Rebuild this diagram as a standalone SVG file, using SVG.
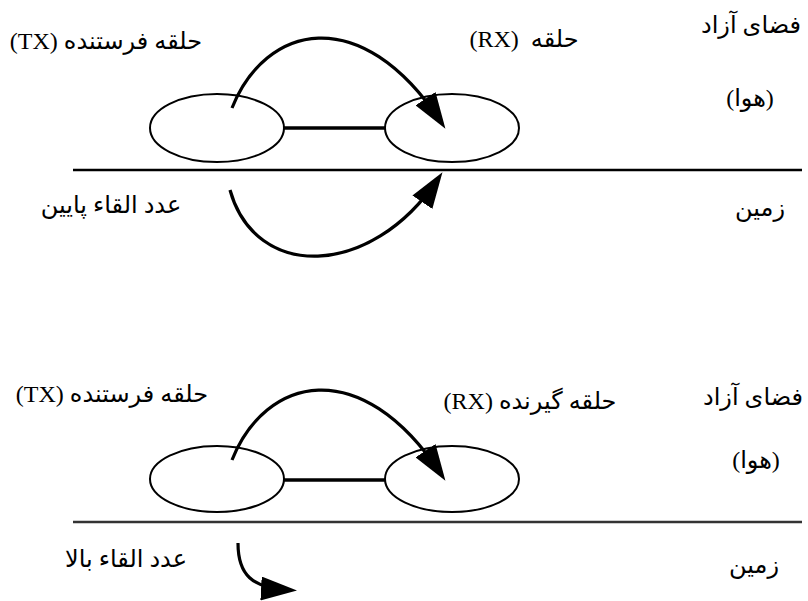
<svg xmlns="http://www.w3.org/2000/svg" width="808" height="601" viewBox="0 0 808 601">
<defs>
<marker id="ah" viewBox="0 0 36 24" markerUnits="userSpaceOnUse" markerWidth="36" markerHeight="24" refX="28" refY="12" orient="auto">
<path d="M0,0 L36,12 L0,24 z" fill="#000"/>
</marker>
</defs>
<style>
.loop{fill:#fff;stroke:#000;stroke-width:2}
.bar{stroke:#000;stroke-width:3.5}
.ground{stroke:#000;stroke-width:2.5}
.ground2{stroke:#333;stroke-width:2.5}
.arc{fill:none;stroke:#000;stroke-width:3.2;marker-end:url(#ah)}
.t{font-family:"Liberation Serif","DejaVu Sans",serif;font-size:24px;fill:#000;direction:rtl;unicode-bidi:embed;text-anchor:middle}
</style>
<rect width="808" height="601" fill="#fff"/>

<g id="top-section">
<line id="ground-top" class="ground" x1="73" y1="170" x2="802" y2="170"/>
<g id="tx-top"><ellipse class="loop" cx="217" cy="128" rx="67" ry="34"/></g>
<g id="rx-top"><ellipse class="loop" cx="452" cy="128" rx="67" ry="34"/></g>
<g id="labels-top">
<text class="t" x="106" y="49">حلقه فرستنده (TX)</text>
<text class="t" x="524" y="47">حلقه&#160; (RX)</text>
<text class="t" x="751" y="33">فضای آزاد</text>
<text class="t" x="750" y="106">(هوا)</text>
<text class="t" x="760" y="216">زمین</text>
<text class="t" x="111" y="213">عدد القاء پایین</text>
</g>
</g>

<g id="bottom-section">
<line id="ground-bottom" class="ground2" x1="73" y1="522" x2="802" y2="522"/>
<g id="tx-bottom"><ellipse class="loop" cx="217" cy="479" rx="67" ry="33"/></g>
<g id="rx-bottom"><ellipse class="loop" cx="452" cy="479" rx="67" ry="33"/></g>
<g id="labels-bottom">
<text class="t" x="112" y="402">حلقه فرستنده (TX)</text>
<text class="t" x="530" y="409">حلقه گیرنده (RX)</text>
<text class="t" x="753" y="405">فضای آزاد</text>
<text class="t" x="756" y="468">(هوا)</text>
<text class="t" x="754" y="573">زمین</text>
<text class="t" x="126" y="567">عدد القاء بالا</text>
</g>
</g>

<g id="connectors">
<line class="bar" x1="284" y1="128" x2="385" y2="128"/>
<line class="bar" x1="284" y1="480" x2="385" y2="480"/>
<path class="arc" d="M232,108 C265,25 360,0 441,122"/>
<path class="arc" d="M230,190 C255,280 370,280 438,179"/>
<path class="arc" d="M232,460 C265,377 360,352 441,474"/>
<path class="arc" d="M238,543 C238,575 252,588 289,590"/>
</g>
</svg>
